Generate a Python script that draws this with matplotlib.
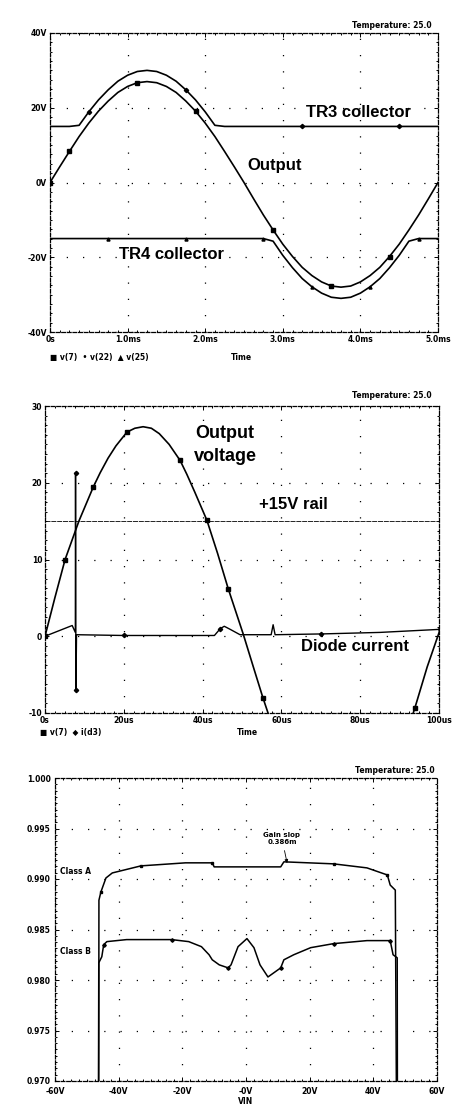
import numpy as np
import matplotlib.pyplot as plt
from matplotlib.ticker import AutoMinorLocator

plt.rcParams['font.family'] = ['DejaVu Sans']

# ---- plot 1: output stage with bootstrapped collector rails, 0..5 ms
t_ms = [0, 0.125, 0.25, 0.375, 0.5, 0.625, 0.75, 0.875, 1.0, 1.125, 1.25,
        1.375, 1.5, 1.625, 1.75, 1.875, 2.0, 2.125, 2.25, 2.375, 2.5,
        2.625, 2.75, 2.875, 3.0, 3.125, 3.25, 3.375, 3.5, 3.625, 3.75,
        3.875, 4.0, 4.125, 4.25, 4.375, 4.5, 4.625, 4.75, 4.875, 5.0]
v_out = [0, 4.2, 8.3, 12.3, 15.9, 19.1, 21.8, 24.1, 25.7, 26.7, 27.0,
         26.7, 25.7, 24.1, 21.8, 19.1, 15.9, 12.3, 8.3, 4.2, 0,
         -4.4, -8.7, -12.7, -16.5, -19.8, -22.7, -24.9, -26.6, -27.7, -28.0,
         -27.7, -26.6, -24.9, -22.7, -19.8, -16.5, -12.7, -8.7, -4.4, 0]
v_tr3 = [15, 15, 15, 15.3, 18.9, 22.1, 24.8, 27.1, 28.7, 29.7, 30.0,
         29.7, 28.7, 27.1, 24.8, 22.1, 18.9, 15.3, 15, 15, 15,
         15, 15, 15, 15, 15, 15, 15, 15, 15, 15,
         15, 15, 15, 15, 15, 15, 15, 15, 15, 15]
v_tr4 = [-15, -15, -15, -15, -15, -15, -15, -15, -15, -15, -15,
         -15, -15, -15, -15, -15, -15, -15, -15, -15, -15,
         -15, -15, -15.7, -19.5, -22.8, -25.7, -27.9, -29.6, -30.7, -31.0,
         -30.7, -29.6, -27.9, -25.7, -22.8, -19.5, -15.7, -15, -15, -15]
x1_ticks = [0, 1, 2, 3, 4, 5]
x1_labels = ['0s', '1.0ms', '2.0ms', '3.0ms', '4.0ms', '5.0ms']
y1_ticks = [40, 20, 0, -20, -40]
y1_labels = ['40V', '20V', '0V', '-20V', '-40V']

# ---- plot 2: output voltage and diode current, 0..100 us
t_us = [0, 2.5, 5.1, 8.6, 12.3, 14, 16, 18, 20.8, 22.8, 24.9, 27, 29,
        31.5, 34.3, 36, 38, 41.1, 43.8, 46.5, 50.3, 53, 55.3, 57,
        60, 65, 70, 75, 80, 85, 90, 93.9, 97, 100.3]
v7 = [0, 5, 10, 15, 19.5, 21.3, 23.2, 24.8, 26.6, 27.1, 27.3, 27.1, 26.4,
      25.0, 22.9, 21.1, 18.8, 15.1, 10.8, 6.2, 0.3, -4.2, -8, -10.6,
      -14.5, -20, -23.5, -25, -24, -21, -15.5, -9.3, -4, 0.9]
t_d3 = [0, 6.9, 7.7, 7.75, 7.85, 8.0, 20, 30, 43, 44.5, 45.5, 47, 49.5,
        57.4, 57.9, 58.4, 70, 85, 100.3]
i_d3 = [0, 1.4, 0.5, 21.3, -7.0, 0.2, 0.1, 0.1, 0.1, 1.0, 1.3, 0.9, 0.2,
        0.2, 1.5, 0.2, 0.3, 0.5, 0.9]
rail = 15
x2_ticks = [0, 20, 40, 60, 80, 100]
x2_labels = ['0s', '20us', '40us', '60us', '80us', '100us']
y2_ticks = [30, 20, 10, 0, -10]
y2_labels = ['30', '20', '10', '0', '-10']

# ---- plot 3: gain vs input voltage, class A and class B
vin_a = [-46.3, -46.2, -45.6, -44.0, -42.0, -33.0, -19.0, -10.6, -10.0,
         10.9, 11.9, 27.5, 38.0, 44.4, 45.3, 46.9, 47.4]
gain_a = [0.960, 0.9879, 0.9887, 0.9901, 0.9906, 0.9913, 0.9916, 0.9916,
          0.9912, 0.9912, 0.9917, 0.9915, 0.9911, 0.9904, 0.9894, 0.9889, 0.960]
vin_b = [-46.4, -46.25, -45.3, -44.7, -43.7, -37.5, -23.4, -18.0, -14.0,
         -11.6, -10.6, -8.4, -5.6, -4.7, -2.5, 0.3, 2.5, 4.4, 6.9, 10.9,
         11.9, 15.0, 20.3, 27.5, 38.0, 45.3, 46.2, 47.5, 47.6]
gain_b = [0.960, 0.9817, 0.9823, 0.9835, 0.9838, 0.9840, 0.9840, 0.9838,
          0.9833, 0.9825, 0.9820, 0.9815, 0.9812, 0.9815, 0.9833, 0.9841,
          0.9832, 0.9815, 0.9803, 0.9812, 0.9820, 0.9825, 0.9832, 0.9836,
          0.9839, 0.9839, 0.9825, 0.9822, 0.960]
x3_ticks = [-60, -40, -20, 0, 20, 40, 60]
x3_labels = ['-60V', '-40V', '-20V', '-0V', '20V', '40V', '60V']
y3_ticks = [1.000, 0.995, 0.990, 0.985, 0.980, 0.975, 0.970]
y3_labels = ['1.000', '0.995', '0.990', '0.985', '0.980', '0.975', '0.970']

W, H = 454, 1108
fig = plt.figure(figsize=(W / 100, H / 100), dpi=100)


def box(l, t, r, b):
    return [l / W, 1 - b / H, (r - l) / W, (b - t) / H]


def pspice_axes(ax, xt, xl, yt, yl):
    # dashed frame with ticks on every side, sparse dotted grid
    for s in ax.spines.values():
        s.set_linestyle((0, (3, 1.5)))
        s.set_linewidth(0.9)
    ax.set_xticks(xt)
    ax.set_xticklabels(xl)
    ax.set_yticks(yt)
    ax.set_yticklabels(yl)
    ax.xaxis.set_minor_locator(AutoMinorLocator(8))
    ax.yaxis.set_minor_locator(AutoMinorLocator(8))
    ax.tick_params(which='both', direction='in', top=True, right=True,
                   labelsize=5.5, pad=2, width=0.7)
    ax.tick_params(which='major', length=3)
    ax.tick_params(which='minor', length=1.5)
    for lab in ax.get_xticklabels() + ax.get_yticklabels():
        lab.set_fontweight('bold')
    ax.grid(True, which='major', color='black', linestyle=(0, (1, 12)),
            linewidth=0.9)
    ax.set_axisbelow(True)


big = dict(fontsize=12, fontweight='bold', family='Liberation Sans',
           ha='center', va='center')
small = dict(fontsize=5.5, fontweight='bold')

# plot 1
ax1 = fig.add_axes(box(50, 33, 438, 332))
ax1.plot(t_ms, v_tr3, color='black', lw=1.2, marker='D', ms=2.2,
         markevery=[4, 14, 26, 36])
ax1.plot(t_ms, v_out, color='black', lw=1.2, marker='s', ms=2.2,
         markevery=[0, 2, 9, 15, 23, 29, 35])
ax1.plot(t_ms, v_tr4, color='black', lw=1.2, marker='^', ms=2.2,
         markevery=[6, 14, 22, 27, 33, 38])
ax1.set_xlim(0, 5)
ax1.set_ylim(-40, 40)
pspice_axes(ax1, x1_ticks, x1_labels, y1_ticks, y1_labels)
ax1.text(3.98, 18.7, 'TR3 collector', **big)
ax1.text(2.9, 4.6, 'Output', **big)
ax1.text(1.56, -19.3, 'TR4 collector', **big)
fig.text(0.951, 0.977, 'Temperature: 25.0', ha='right', va='center', **small)
fig.text(0.110, 0.677, '\u25a0 v(7)  \u2022 v(22)  \u25b2 v(25)', ha='left',
         va='center', **small)
fig.text(0.531, 0.677, 'Time', ha='center', va='center', **small)

# plot 2
ax2 = fig.add_axes(box(45, 406, 439, 713))
ax2.axhline(rail, color='black', lw=0.6, linestyle=(0, (6, 1)))
ax2.plot(t_us, v7, color='black', lw=1.2, marker='s', ms=2.2,
         markevery=[0, 2, 4, 8, 14, 17, 19, 22, 31])
ax2.plot(t_d3, i_d3, color='black', lw=1.0, marker='D', ms=2.2,
         markevery=[3, 4, 6, 9, 16, 18])
ax2.set_xlim(0, 100)
ax2.set_ylim(-10, 30)
pspice_axes(ax2, x2_ticks, x2_labels, y2_ticks, y2_labels)
ax2.text(45.7, 26.4, 'Output', **dict(big, fontsize=13))
ax2.text(45.7, 23.4, 'voltage', **dict(big, fontsize=13))
ax2.text(63, 17.2, '+15V rail', **big)
ax2.text(78.7, -1.3, 'Diode current', **big)
fig.text(0.951, 0.6435, 'Temperature: 25.0', ha='right', va='center', **small)
fig.text(0.088, 0.3385, '\u25a0 v(7)  \u25c6 i(d3)', ha='left', va='center',
         **small)
fig.text(0.546, 0.3385, 'Time', ha='center', va='center', **small)

# plot 3
ax3 = fig.add_axes(box(55, 778, 437, 1081))
ax3.plot(vin_a, gain_a, color='black', lw=1.1, marker='s', ms=1.8,
         markevery=[2, 5, 7, 11, 13])
ax3.plot(vin_b, gain_b, color='black', lw=1.1, marker='D', ms=1.8,
         markevery=[3, 6, 12, 19, 23, 25])
ax3.set_xlim(-60, 60)
ax3.set_ylim(0.970, 1.000)
pspice_axes(ax3, x3_ticks, x3_labels, y3_ticks, y3_labels)
ax3.tick_params(axis='x', which='major', pad=4)
ax3.tick_params(axis='y', which='major', pad=3)
ax3.text(-58.4, 0.9907, 'Class A', ha='left', va='center', **small)
ax3.text(-58.4, 0.9828, 'Class B', ha='left', va='center', **small)
ax3.annotate('Gain slop\n0.386m', xy=(13.1, 0.9913), xytext=(11.3, 0.9940),
             ha='center', va='center', fontsize=5, fontweight='bold',
             arrowprops=dict(arrowstyle='-|>', lw=0.6, color='black',
                             mutation_scale=5))
fig.text(0.958, 0.305, 'Temperature: 25.0', ha='right', va='center', **small)
fig.text(0.54, 0.006, 'VIN', ha='center', va='center', **small)

fig.savefig('out.png', dpi=100)
